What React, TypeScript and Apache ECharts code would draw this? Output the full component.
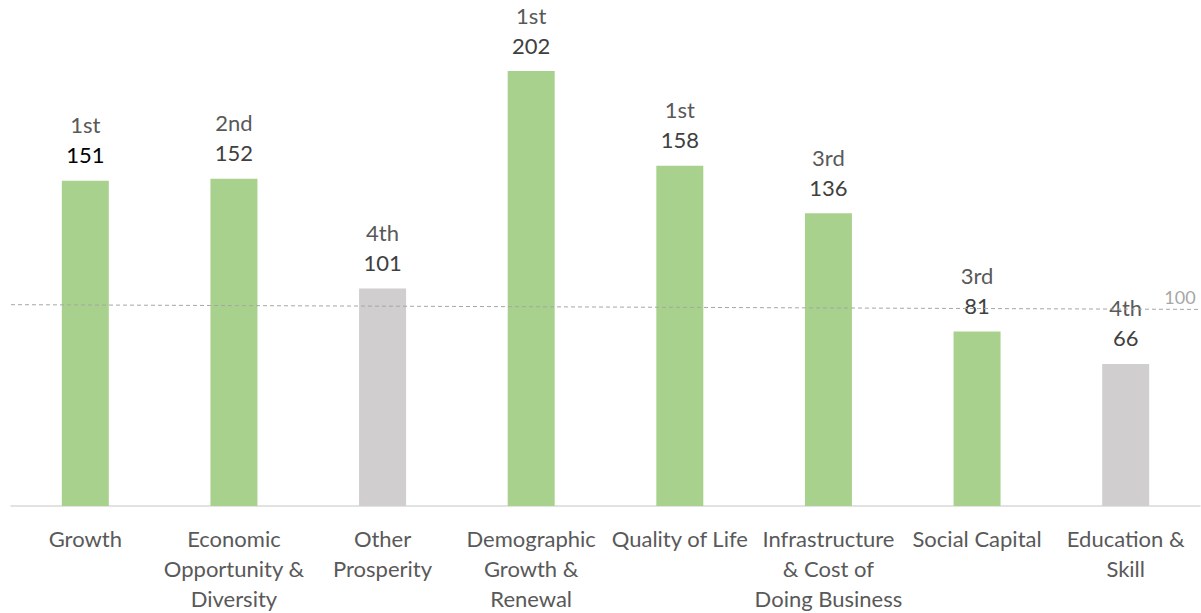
import React, { useEffect, useRef } from "react";
import * as echarts from "echarts";

const categories = [
  "Growth",
  "Economic\nOpportunity &\nDiversity",
  "Other\nProsperity",
  "Demographic\nGrowth &\nRenewal",
  "Quality of Life",
  "Infrastructure\n& Cost of\nDoing Business",
  "Social Capital",
  "Education &\nSkill",
];
const values = [151, 152, 101, 202, 158, 136, 81, 66];
const ranks = ["1st", "2nd", "4th", "1st", "1st", "3rd", "3rd", "4th"];
const highlighted = [true, true, false, true, true, true, true, false];
const refLine: [number, number][] = [
  [0, 93.5],
  [1, 91.3],
];
const refLabel = "100";

const FONT = "Lato";
const FS = 22;

export default function App() {
  const ref = useRef<HTMLDivElement>(null);
  useEffect(() => {
    document.body.style.margin = "0";
    const chart = echarts.init(ref.current!, null, { renderer: "svg" });
    chart.setOption({
      animation: false,
      textStyle: { fontFamily: FONT },
      grid: { left: 11, right: 1, top: 32.3, bottom: 102, containLabel: false },
      xAxis: [
        {
          type: "category",
          data: categories,
          axisLine: { lineStyle: { color: "#D9D9D9", width: 1.5 } },
          axisTick: { show: false },
          axisLabel: {
            color: "#595959",
            fontSize: FS,
            lineHeight: 30,
            margin: 17,
            interval: 0,
            fontFamily: FONT,
          },
        },
        { type: "value", min: 0, max: 1, show: false },
      ],
      yAxis: { type: "value", min: 0, max: 220, show: false, splitLine: { show: false } },
      series: [
        {
          type: "bar",
          barWidth: 47,
          data: values.map((v, i) => ({
            value: v,
            itemStyle: { color: highlighted[i] ? "#A9D18E" : "#D0CECE" },
            label: {
              show: true,
              position: "top",
              distance: 11,
              formatter: `{r|${ranks[i]}}\n{${i === 0 ? "k" : "v"}|${v}}`,
              rich: {
                r: { fontSize: FS, lineHeight: 30, color: "#595959", fontFamily: FONT },
                v: { fontSize: FS, lineHeight: 30, color: "#404040", fontFamily: FONT },
                k: { fontSize: FS, lineHeight: 30, color: "#000000", fontFamily: FONT },
              },
            },
          })),
        },
        {
          type: "line",
          xAxisIndex: 1,
          symbol: "circle",
          symbolSize: 0,
          z: 5,
          lineStyle: { color: "#A6A6A6", width: 1, type: [4, 3] },
          data: refLine.map((p, i) => ({
            value: p,
            label: {
              show: i === refLine.length - 1,
              position: "top",
              offset: [-20, 2],
              formatter: refLabel,
              color: "#A6A6A6",
              fontSize: 18,
              fontFamily: FONT,
            },
          })),
        },
      ],
    });
    return () => chart.dispose();
  }, []);
  return <div ref={ref} style={{ width: 1201, height: 613 }} />;
}
